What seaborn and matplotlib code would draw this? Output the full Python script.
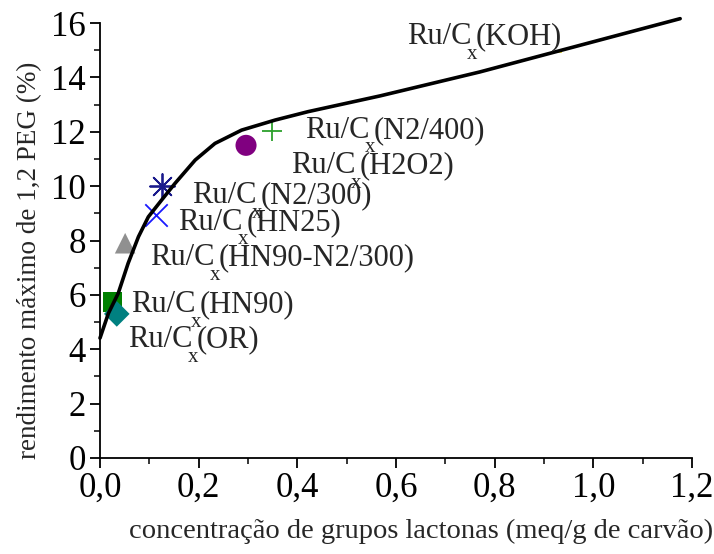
import matplotlib
matplotlib.use("Agg")
import matplotlib.pyplot as plt
import seaborn as sns
import pandas as pd
from matplotlib.ticker import MultipleLocator

sns.set_theme(style="ticks")
plt.rcParams["font.family"] = ["Liberation Serif", "DejaVu Serif"]

# Fitted trend line (lactone concentration vs. max 1,2-PEG yield)
curve_x = [0.0, 0.017, 0.037, 0.057, 0.078, 0.098, 0.125, 0.152, 0.193, 0.233,
           0.287, 0.355, 0.422, 0.568, 0.770, 1.176]
curve_y = [4.41, 5.32, 6.06, 7.16, 8.14, 8.87, 9.49, 10.10, 10.96, 11.57,
           12.06, 12.43, 12.74, 13.32, 14.20, 16.16]

# Catalysts
catalysts = ["KOH", "N2/400", "H2O2", "N2/300", "HN25", "HN90-N2/300", "HN90", "OR"]
lactones = [0.926, 0.349, 0.296, 0.126, 0.113, 0.051, 0.026, 0.034]
yields = [14.95, 12.03, 11.50, 10.00, 8.94, 7.90, 5.74, 5.30]
colors = ["#e8e040", "#2ca02c", "#800080", "#1a1a8c", "#1a1aff", "#909090", "#008000", "#008080"]
markers = ["_", "+", "o", (8, 2, 0), "x", "^", "s", "D"]
sizes = [60, 220, 230, 320, 260, 220, 190, 170]

# label anchor positions (data units, text baseline)
label_x = [0.623, 0.416, 0.387, 0.187, 0.158, 0.101, 0.063, 0.057]
label_y = [15.23, 11.78, 10.48, 9.38, 8.39, 7.10, 5.37, 4.08]

fig = plt.figure(figsize=(7.14, 5.54), dpi=100)
ax = fig.add_axes([100 / 714, 1 - 458 / 554, 592 / 714, 435 / 554])

df = pd.DataFrame({"catalisador": catalysts, "x": lactones, "y": yields})
for i, row in df.iterrows():
    filled = markers[i] not in ["+", "x", "_", (8, 2, 0)]
    kw = dict(edgecolor="none") if filled else dict(linewidth=1.3)
    sns.scatterplot(x=[row.x], y=[row.y], ax=ax, marker=markers[i], color=colors[i],
                    s=sizes[i], zorder=2, legend=False, **kw)

sns.lineplot(x=curve_x, y=curve_y, ax=ax, color="black", linewidth=2.6, zorder=3,
             sort=True, estimator=None, clip_on=False)

# labels "Ru/C" + lowered subscript "x" + "(treatment)"
renderer = fig.canvas.get_renderer()
fs_main, fs_sub = 22, 15
for name, lx, ly in zip(catalysts, label_x, label_y):
    t = ax.text(lx, ly, "Ru/C", fontsize=fs_main, va="baseline", ha="left", zorder=4)
    w = t.get_window_extent(renderer).width * 72 / fig.dpi
    ax.annotate("x", xy=(lx, ly), xytext=(w - 3.5, -10.5), textcoords="offset points",
                fontsize=fs_sub, va="baseline", ha="left", zorder=4)
    ax.annotate("(" + name + ")", xy=(lx, ly), xytext=(w + 3.0, 0), textcoords="offset points",
                fontsize=fs_main, va="baseline", ha="left", zorder=4)

ax.set_xlim(0, 1.2)
ax.set_ylim(0, 16)
ax.xaxis.set_major_locator(MultipleLocator(0.2))
ax.xaxis.set_minor_locator(MultipleLocator(0.1))
ax.yaxis.set_major_locator(MultipleLocator(2))
ax.yaxis.set_minor_locator(MultipleLocator(1))
ax.set_xticks([0, 0.2, 0.4, 0.6, 0.8, 1.0, 1.2])
ax.set_xticklabels(["0,0", "0,2", "0,4", "0,6", "0,8", "1,0", "1,2"])
ax.tick_params(axis="both", which="major", direction="out", length=7, width=1.3,
               labelsize=25, colors="black", pad=3)
ax.tick_params(axis="both", which="minor", direction="out", length=4, width=1.3)
for side in ["top", "right"]:
    ax.spines[side].set_visible(False)
for side in ["left", "bottom"]:
    ax.spines[side].set_linewidth(1.3)
    ax.spines[side].set_color("black")

ax.set_xlabel("concentração de grupos lactonas (meq/g de carvão)", fontsize=20.5)
ax.set_ylabel("rendimento máximo de 1,2 PEG (%)", fontsize=19.5)
ax.xaxis.set_label_coords((421 - 100) / 592, (458 - 531) / 435, transform=ax.transAxes)
ax.yaxis.set_label_coords((30 - 100) / 592, (458 - 260) / 435, transform=ax.transAxes)
ax.xaxis.label.set_va("center")
ax.yaxis.label.set_va("center")
ax.set_facecolor("white")
fig.patch.set_facecolor("white")

fig.savefig("out.png", dpi=100)
